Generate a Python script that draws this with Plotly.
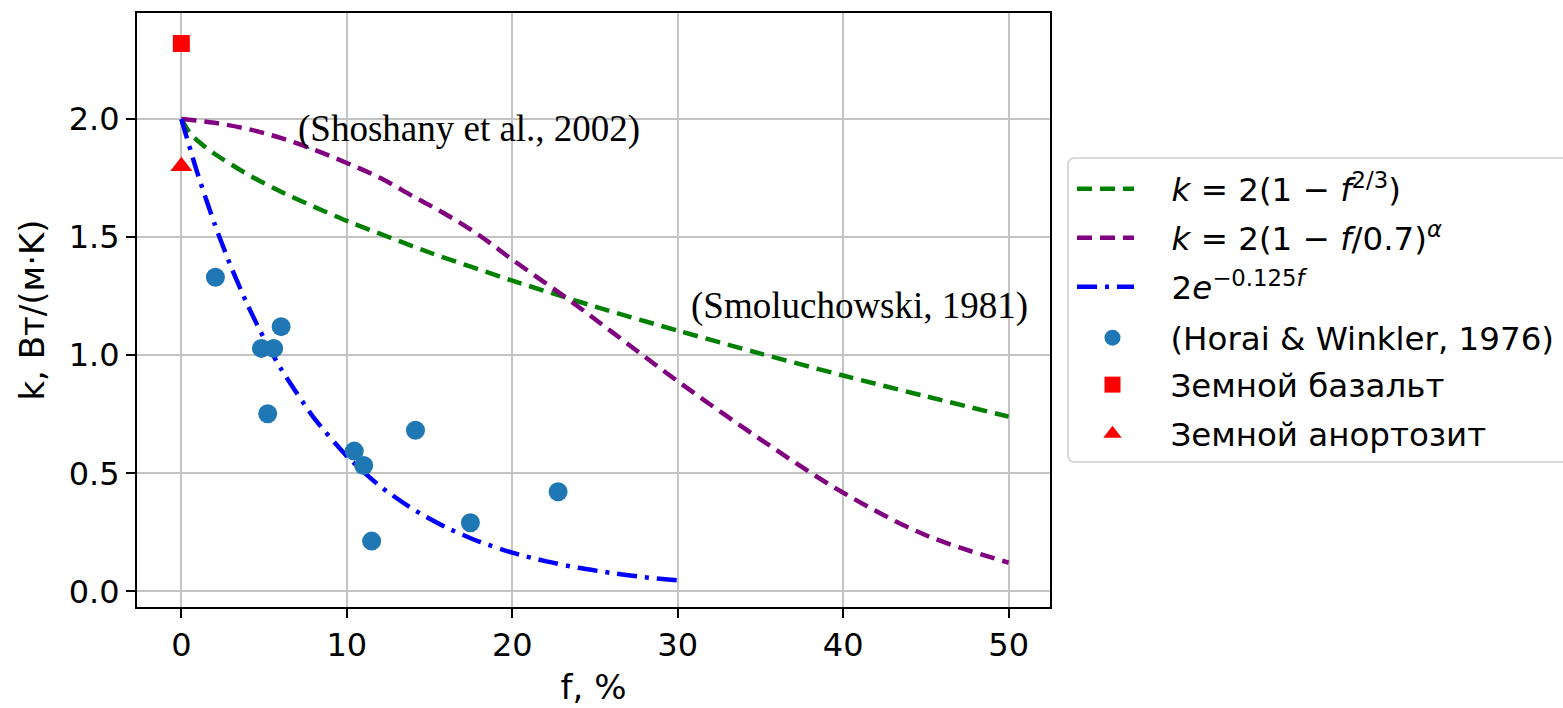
import plotly.graph_objects as go

# ---- data ----
green_f = [0, 0.5, 1, 2, 4, 6, 8, 10, 15, 20, 25, 30, 35, 40, 45, 50]
green_k = [2.0, 1.942, 1.907, 1.853, 1.766, 1.693, 1.629, 1.569, 1.435, 1.316, 1.206, 1.104, 1.007, 0.914, 0.826, 0.740]

purple_f = [0, 2, 4, 6, 8, 10, 12, 14, 16, 18, 20, 23.4, 26, 30, 35, 40, 45, 50]
purple_k = [2.0, 1.984, 1.958, 1.92, 1.871, 1.814, 1.751, 1.673, 1.596, 1.508, 1.405, 1.236, 1.10, 0.89, 0.644, 0.418, 0.238, 0.122]

blue_f = [0, 1, 2, 3, 4, 5, 6, 8, 10, 12, 14, 16, 18, 20, 22, 24, 26, 28, 30]
blue_k = [2.0, 1.765, 1.558, 1.375, 1.213, 1.071, 0.945, 0.736, 0.573, 0.446, 0.348, 0.271, 0.211, 0.164, 0.128, 0.100, 0.078, 0.060, 0.047]

horai_f = [2.06, 4.84, 5.58, 6.03, 5.22, 10.45, 11.02, 14.15, 11.5, 17.47, 22.77]
horai_k = [1.330, 1.029, 1.029, 1.121, 0.752, 0.594, 0.533, 0.682, 0.213, 0.291, 0.422]

basalt_f = [0]
basalt_k = [2.32]
anorth_f = [0]
anorth_k = [1.80]

x_ticks = [0, 10, 20, 30, 40, 50]
y_ticks = [0.0, 0.5, 1.0, 1.5, 2.0]

names = [
    "<i>k</i> = 2(1 − <i>f</i><sup>2/3</sup>)",
    "<i>k</i> = 2(1 − <i>f</i>/0.7)<sup><i>α</i></sup>",
    "2<i>e</i><sup>−0.125<i>f</i></sup>",
    "(Horai &amp; Winkler, 1976)",
    "Земной базальт",
    "Земной анортозит",
]

FONT = "DejaVu Sans"
LINE_GAP = "\u2003"            # gap between line sample and text
MARK_GAP = "\u2002\u2005"      # gap between marker sample and text

fig = go.Figure()
fig.add_trace(go.Scatter(x=green_f, y=green_k, mode="lines", name=LINE_GAP + names[0], legend="legend",
                         line=dict(color="#008000", width=4.5, dash="15px,8px", shape="spline", smoothing=0.6)))
fig.add_trace(go.Scatter(x=purple_f, y=purple_k, mode="lines", name=LINE_GAP + names[1], legend="legend2",
                         line=dict(color="#800080", width=4.5, dash="15px,8px", shape="spline", smoothing=1.0)))
fig.add_trace(go.Scatter(x=blue_f, y=blue_k, mode="lines", name=LINE_GAP + names[2], legend="legend3",
                         line=dict(color="#0000ff", width=4.5, dash="20px,8px,4px,8px", shape="spline", smoothing=0.6)))
fig.add_trace(go.Scatter(x=horai_f, y=horai_k, mode="markers", name=MARK_GAP + names[3], legend="legend4",
                         marker=dict(color="#1f77b4", size=19, symbol="circle")))
fig.add_trace(go.Scatter(x=basalt_f, y=basalt_k, mode="markers", name=MARK_GAP + names[4], legend="legend5",
                         marker=dict(color="#ff0000", size=17, symbol="square")))
fig.add_trace(go.Scatter(x=anorth_f, y=anorth_k, mode="markers", name=MARK_GAP + names[5], legend="legend6",
                         marker=dict(color="#ff0000", size=19, symbol="triangle-up")))

fig.add_annotation(x=17.36, y=1.959, xref="x", yref="y", text="(Shoshany et al., 2002)",
                   showarrow=False, font=dict(family="Liberation Serif", size=37, color="black"))
fig.add_annotation(x=40.98, y=1.21, xref="x", yref="y", text="(Smoluchowski, 1981)",
                   showarrow=False, font=dict(family="Liberation Serif", size=37, color="black"))

axis_common = dict(
    showgrid=True, gridcolor="#c4c4c4", gridwidth=2,
    showline=True, linecolor="black", linewidth=2, mirror=True,
    ticks="outside", ticklen=9, tickwidth=2, tickcolor="black",
    zeroline=False, tickfont=dict(family=FONT, size=32, color="black"),
)

fig.update_xaxes(range=[-2.68, 52.5], tickvals=x_ticks, ticktext=[str(v) for v in x_ticks],
                 title=dict(text="f, %", font=dict(family=FONT, size=34, color="black"), standoff=12),
                 **axis_common)
fig.update_yaxes(range=[-0.066, 2.449], tickvals=y_ticks, ticktext=[f"{v:.1f}" for v in y_ticks],
                 title=dict(text="k, Вт/(м·K)", font=dict(family=FONT, size=34, color="black"), standoff=14),
                 **axis_common)

# legend frame (rounded box), in paper coordinates
PW, PH = 913.0, 594.0
def px_x(p):
    return (p - 137) / PW
def px_y(p):
    return 1 - (p - 13) / PH
x0, x1, y0, y1 = px_x(1068), px_x(1600), px_y(158), px_y(462)
rx, ry = 7 / PW, 7 / PH
path = (f"M{x0 + rx},{y0} L{x1 - rx},{y0} Q{x1},{y0} {x1},{y0 - ry} "
        f"L{x1},{y1 + ry} Q{x1},{y1} {x1 - rx},{y1} "
        f"L{x0 + rx},{y1} Q{x0},{y1} {x0},{y1 + ry} "
        f"L{x0},{y0 - ry} Q{x0},{y0} {x0 + rx},{y0} Z")
fig.add_shape(type="path", path=path, xref="paper", yref="paper",
              line=dict(color="#d0d0d0", width=1.5), fillcolor="white", layer="above")

row_centers = [189, 238, 287, 338, 385, 434]
leg_x = [1072, 1072, 1072, 1079, 1079, 1079]
legend_defs = {}
for i, (rc, lx) in enumerate(zip(row_centers, leg_x)):
    key = "legend" if i == 0 else f"legend{i + 1}"
    legend_defs[key] = dict(x=px_x(lx), y=px_y(rc), xanchor="left", yanchor="middle",
                            bgcolor="rgba(0,0,0,0)", borderwidth=0,
                            font=dict(family=FONT, size=32.5, color="black"),
                            itemwidth=57)

fig.update_layout(
    width=1563, height=708,
    margin=dict(l=137, r=513, t=13, b=101, autoexpand=False),
    plot_bgcolor="white", paper_bgcolor="white",
    font=dict(family=FONT, size=32, color="black"),
    showlegend=True,
    **legend_defs,
)

fig.write_html("out.html")
